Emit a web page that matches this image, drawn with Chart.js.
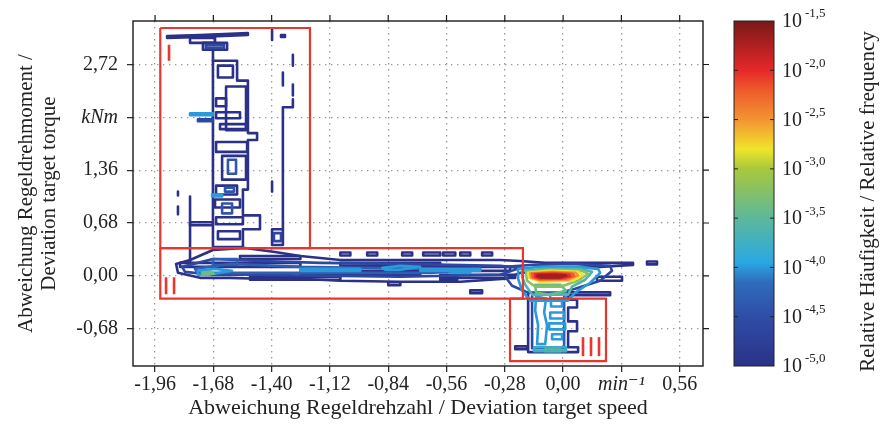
<!DOCTYPE html>
<html>
<head>
<meta charset="utf-8">
<script src="https://cdn.jsdelivr.net/npm/chart.js@4.4.1/dist/chart.umd.min.js"></script>
<style>
  html, body { margin: 0; padding: 0; background: #fff; }
</style>
</head>
<body>
<canvas id="chart" width="881" height="432"></canvas>
<script>
// --- axes ---
const xTicks = [-1.96, -1.68, -1.40, -1.12, -0.84, -0.56, -0.28, 0.00, 0.28, 0.56];
const yTicks = [-0.68, 0.00, 0.68, 1.36, 2.04, 2.72];
const xUnitAt = 0.28;   // 'min⁻¹' replaces this label
const yUnitAt = 2.04;   // 'kNm' replaces this label
const xLimits = [-2.066, 0.672];
const yLimits = [-1.161, 3.28];

// --- colour scale: log10 of relative frequency ---
const levelTicks = [-5.0, -4.5, -4.0, -3.5, -3.0, -2.5, -2.0, -1.5];
const jetStops = [
  [-5.0, '#2b3188'], [-4.5, '#2f4da6'], [-4.15, '#2f6cbc'], [-3.95, '#2aa8e4'],
  [-3.5, '#5cb89a'], [-3.0, '#a8c83c'], [-2.8, '#f0e42a'], [-2.5, '#f39432'],
  [-2.2, '#ee5a2a'], [-2.0, '#e6282a'], [-1.5, '#7a1818']
];

// --- marked regions (x1, y1, x2, y2) ---
const regionBoxes = [
  [-1.935, 3.19, -1.216, 0.357],
  [-1.935, 0.357, -0.193, -0.293],
  [-0.255, -0.293, 0.206, -1.097]
];
const regionMarks = [
  { n: 1, x: -1.893, y: 2.871 },
  { n: 2, x: -1.888, y: -0.128 },
  { n: 3, x: 0.134, y: -0.912 }
];

// --- region I: high torque deviation ---
const regionIShapes = [
  { lvl: -5.0, pts: [[-1.902,3.087],[-1.744,3.100],[-1.514,3.126],[-1.514,3.100],[-1.744,3.074],[-1.902,3.062]] },
  { lvl: -5.0, pts: [[-1.682,2.768],[-1.566,2.768],[-1.566,2.513],[-1.514,2.513],[-1.514,1.837],[-1.470,1.837],[-1.470,1.748],[-1.514,1.748],[-1.514,1.110],[-1.538,1.110],[-1.538,0.778],[-1.456,0.778],[-1.456,0.600],[-1.538,0.600],[-1.538,0.370],[-1.682,0.370]] }
];
const regionIBoxes = [
  { lvl: -5.0, r: [-1.792,3.062,-1.672,2.998] },
  { lvl: -5.0, r: [-1.730,2.998,-1.614,2.909] },
  { lvl: -4.6, r: [-1.716,2.973,-1.629,2.934] },
  { lvl: -5.0, r: [-1.658,2.705,-1.586,2.552] },
  { lvl: -5.0, r: [-1.619,2.437,-1.523,1.875] },
  { lvl: -5.0, r: [-1.667,2.284,-1.619,2.182] },
  { lvl: -5.0, r: [-1.667,2.105,-1.552,2.029] },
  { lvl: -5.0, r: [-1.648,1.952,-1.523,1.888] },
  { lvl: -5.0, r: [-1.667,1.722,-1.518,1.595] },
  { lvl: -5.0, r: [-1.638,1.544,-1.523,1.238] },
  { lvl: -5.0, r: [-1.667,1.161,-1.566,1.046] },
  { lvl: -5.0, r: [-1.672,0.982,-1.552,0.880] },
  { lvl: -5.0, r: [-1.667,0.753,-1.538,0.663] },
  { lvl: -5.0, r: [-1.658,0.574,-1.552,0.472] },
  { lvl: -4.4, r: [-1.610,1.493,-1.571,1.314] },
  { lvl: -4.4, r: [-1.624,1.135,-1.581,1.084] },
  { lvl: -4.4, r: [-1.638,0.931,-1.590,0.804] },
  { lvl: -4.0, r: [-1.792,2.092,-1.682,2.067] },
  { lvl: -4.6, r: [-1.754,2.016,-1.682,1.990] },
  { lvl: -4.0, r: [-1.686,1.046,-1.638,1.021] },
  { lvl: -5.0, r: [-1.792,0.689,-1.682,0.651] },
  { lvl: -5.0, r: [-1.398,0.600,-1.346,0.396] },
  { lvl: -4.6, r: [-1.389,0.549,-1.355,0.447] },
  { lvl: -5.0, r: [-1.355,3.100,-1.336,3.074] }
];
const regionILines = [
  { lvl: -5.0, pts: [[-1.682,2.909],[-1.682,2.768]] },
  { lvl: -5.0, pts: [[-1.346,0.600],[-1.346,2.169],[-1.298,2.169],[-1.298,2.271]] },
  { lvl: -5.0, pts: [[-1.298,2.845],[-1.298,2.705]] },
  { lvl: -5.0, pts: [[-1.298,2.462],[-1.298,2.322]] },
  { lvl: -5.0, pts: [[-1.346,2.615],[-1.346,2.450]] },
  { lvl: -5.0, pts: [[-1.398,3.164],[-1.398,3.036]] },
  { lvl: -5.0, pts: [[-1.398,1.212],[-1.398,1.084]] },
  { lvl: -5.0, pts: [[-1.792,1.021],[-1.792,0.166]] },
  { lvl: -5.0, pts: [[-1.850,1.084],[-1.850,1.033]] },
  { lvl: -5.0, pts: [[-1.850,0.893],[-1.850,0.791]] }
];

// --- region II: speed deviation band ---
const regionIIShapes = [
  { lvl: -5.0, pts: [[-1.859,0.153],[-1.792,0.204],[-1.682,0.332],[-1.528,0.357],[-1.384,0.306],[-1.262,0.255],[-1.070,0.204],[-0.782,0.204],[-0.494,0.204],[-0.302,0.204],[-0.206,0.191],[-0.086,0.166],[0.130,0.166],[0.336,0.166],[0.336,0.140],[0.178,0.115],[-0.014,0.089],[-0.206,0.038],[-0.278,-0.038],[-0.494,-0.077],[-0.782,-0.077],[-1.070,-0.064],[-1.262,-0.038],[-1.456,-0.038],[-1.600,-0.026],[-1.744,-0.026],[-1.850,0.038]] },
  { lvl: -4.6, pts: [[-1.830,0.115],[-1.682,0.217],[-1.456,0.191],[-1.166,0.166],[-0.782,0.153],[-0.302,0.128],[-0.206,0.102],[-0.302,0.013],[-0.782,-0.013],[-1.166,0],[-1.456,0.013],[-1.682,0.013],[-1.816,0.051]] },
  { lvl: -4.3, pts: [[-1.768,0.089],[-1.600,0.153],[-1.262,0.115],[-0.974,0.102],[-0.638,0.089],[-0.398,0.077],[-0.638,0.038],[-0.974,0.038],[-1.262,0.038],[-1.600,0.038],[-1.754,0.038]] },
  { lvl: -4.0, pts: [[-1.754,0.064],[-1.672,0.089],[-1.590,0.064],[-1.672,0.026],[-1.754,0.013]] },
  { lvl: -3.4, pts: [[-1.735,0.038],[-1.696,0.051],[-1.677,0.026],[-1.725,0.013]] },
  { lvl: -4.0, pts: [[-0.869,0.102],[-0.782,0.128],[-0.686,0.115],[-0.782,0.077],[-0.854,0.077]] }
];
const regionIIBoxes = [
  { lvl: -4.0, r: [-0.542,0.064,-0.446,0.038] },
  { lvl: -4.0, r: [-1.262,0.089,-0.974,0.064] },
  { lvl: -4.0, r: [-0.686,0.089,-0.398,0.064] },
  { lvl: -4.3, r: [-1.682,0.217,-1.566,0.140] },
  { lvl: -5.0, r: [-1.552,0.255,-1.262,0.217] },
  { lvl: -5.0, r: [-1.840,0.166,-1.262,0.115] },
  { lvl: -5.0, r: [-1.262,0.064,-0.686,0.013] },
  { lvl: -5.0, r: [-0.686,0.115,-0.254,0.064] },
  { lvl: -5.0, r: [-1.504,-0.013,-1.070,-0.051] },
  { lvl: -5.0, r: [-1.070,0.166,-0.590,0.128] },
  { lvl: -5.0, r: [-0.590,0.013,-0.230,-0.026] },
  { lvl: -5.0, r: [-1.070,0.300,-1.022,0.262] },
  { lvl: -5.0, r: [-0.941,0.300,-0.893,0.262] },
  { lvl: -5.0, r: [-0.773,0.300,-0.725,0.262] },
  { lvl: -5.0, r: [-0.672,0.300,-0.590,0.262] },
  { lvl: -5.0, r: [-0.576,0.300,-0.518,0.262] },
  { lvl: -5.0, r: [-0.494,0.300,-0.446,0.262] },
  { lvl: -5.0, r: [-0.389,0.300,-0.341,0.262] },
  { lvl: -5.0, r: [-0.840,-0.083,-0.782,-0.121] },
  { lvl: -5.0, r: [-0.590,-0.019,-0.509,-0.057] },
  { lvl: -5.0, r: [-0.446,-0.185,-0.389,-0.223] },
  { lvl: -5.0, r: [0.019,-0.211,0.226,-0.249] },
  { lvl: -5.0, r: [0.403,0.185,0.451,0.147] },
  { lvl: -5.0, r: [0.163,-0.013,0.283,-0.064] }
];

// --- operating peak near zero deviation ---
const peakShapes = [
  { lvl: -4.6, pts: [[-0.278,0.115],[-0.158,0.140],[0.034,0.153],[0.226,0.128],[0.235,0.064],[0.178,-0.064],[0.058,-0.166],[-0.014,-0.217],[-0.168,-0.217],[-0.245,-0.128],[-0.278,-0.013]] },
  { lvl: -4.0, pts: [[-0.216,0.089],[-0.110,0.115],[0.058,0.115],[0.168,0.089],[0.178,0.038],[0.130,-0.089],[0.058,-0.217],[0.024,-0.319],[-0.158,-0.319],[-0.197,-0.191],[-0.216,-0.038]] },
  { lvl: -3.6, pts: [[-0.197,0.064],[-0.086,0.089],[0.082,0.089],[0.139,0.051],[0.106,-0.051],[0.043,-0.140],[0.024,-0.242],[-0.149,-0.242],[-0.182,-0.115],[-0.197,-0.013]] },
  { lvl: -3.4, pts: [[-0.134,-0.115],[-0.014,-0.115],[0.014,-0.191],[-0.062,-0.242],[-0.130,-0.217]] },
  { lvl: -3.2, pts: [[-0.178,0.051],[-0.062,0.077],[0.091,0.064],[0.120,0.026],[0.072,-0.064],[-0.014,-0.140],[-0.134,-0.140],[-0.173,-0.064]] },
  { lvl: -2.8, pts: [[-0.168,0.038],[-0.062,0.064],[0.072,0.051],[0.096,0.013],[0.043,-0.064],[-0.110,-0.077],[-0.163,-0.026]] },
  { lvl: -2.5, pts: [[-0.158,0.032],[-0.053,0.051],[0.058,0.038],[0.072,0.006],[0.024,-0.051],[-0.110,-0.057],[-0.154,-0.026]] },
  { lvl: -2.2, pts: [[-0.149,0.026],[-0.048,0.038],[0.043,0.026],[0.053,0],[0.010,-0.038],[-0.110,-0.045],[-0.144,-0.019]] },
  { lvl: -2.0, pts: [[-0.134,0.019],[-0.038,0.026],[0.029,0.013],[0.034,-0.006],[-0.014,-0.032],[-0.110,-0.032],[-0.134,-0.013]] },
  { lvl: -1.7, pts: [[-0.120,0.009],[-0.034,0.013],[0.014,0.003],[-0.014,-0.020],[-0.110,-0.020],[-0.125,-0.006]] }
];

// --- region III: negative torque below the peak ---
const regionIIIShapes = [
  { lvl: -4.0, pts: [[-0.130,-0.268],[-0.082,-0.293],[-0.091,-0.472],[-0.077,-0.638],[-0.086,-0.880],[-0.125,-0.880],[-0.120,-0.638],[-0.134,-0.447]] }
];
const regionIIIBoxes = [
  { lvl: -5.0, r: [-0.230,-0.906,-0.173,-0.944] },
  { lvl: -4.0, r: [-0.062,-0.230,0.014,-0.293] },
  { lvl: -4.0, r: [-0.058,-0.319,-0.005,-0.396] },
  { lvl: -4.0, r: [-0.062,-0.472,0.005,-0.549] },
  { lvl: -4.0, r: [-0.067,-0.612,0.010,-0.689] },
  { lvl: -4.0, r: [-0.053,-0.753,-0.005,-0.817] },
  { lvl: -3.8, r: [-0.139,-0.919,0.014,-0.970] },
  { lvl: -3.6, r: [-0.086,-0.945,-0.014,-0.970] }
];
const regionIIILines = [
  { lvl: -5.0, pts: [[-0.168,-0.217],[-0.168,-0.982],[0.072,-0.982],[0.072,-0.919],[0.024,-0.919],[0.024,-0.714],[0.067,-0.714],[0.067,-0.587],[0.024,-0.587],[0.024,-0.408],[0.067,-0.408],[0.067,-0.306],[0.024,-0.306],[0.024,-0.217]] },
  { lvl: -4.6, pts: [[-0.149,-0.255],[-0.149,-0.931],[0.010,-0.931]] },
  { lvl: -4.3, pts: [[0.005,-0.268],[0.005,-0.893]] }
];

// --- helpers ---
const serif = "'Liberation Serif', 'DejaVu Serif', serif";
const ink = '#222';

function hexRgb(h) {
  const n = parseInt(h.slice(1), 16);
  return [n >> 16, (n >> 8) & 255, n & 255];
}

function levelColor(l) {
  for (let i = 0; i < jetStops.length - 1; i++) {
    const [l0, c0] = jetStops[i];
    const [l1, c1] = jetStops[i + 1];
    if (l <= l1) {
      const t = Math.max(0, (l - l0) / (l1 - l0));
      const a = hexRgb(c0), b = hexRgb(c1);
      return 'rgb(' + a.map((v, k) => Math.round(v + (b[k] - v) * t)).join(',') + ')';
    }
  }
  return jetStops[jetStops.length - 1][1];
}

function rectPts(r) {
  return [[r[0], r[1]], [r[2], r[1]], [r[2], r[3]], [r[0], r[3]]];
}

function fmt(v) {
  return (Math.abs(v) < 1e-9 ? 0 : v).toFixed(2).replace('.', ',');
}

const datasets = [];

function addLine(pts, lvl, closed) {
  const data = pts.map(p => ({ x: p[0], y: p[1] }));
  if (closed) data.push({ x: pts[0][0], y: pts[0][1] });
  const col = levelColor(lvl);
  datasets.push({
    data: data,
    borderColor: col,
    backgroundColor: col,
    borderWidth: 2.6,
    borderJoinStyle: 'round',
    borderCapStyle: 'round',
    pointRadius: 0,
    tension: 0,
    fill: closed && lvl >= -2.0 ? 'shape' : false,
    order: Math.round(-lvl * 10)
  });
}

[regionIShapes, regionIIShapes, peakShapes, regionIIIShapes].forEach(list =>
  list.forEach(s => addLine(s.pts, s.lvl, true)));
[regionIBoxes, regionIIBoxes, regionIIIBoxes].forEach(list =>
  list.forEach(b => addLine(rectPts(b.r), b.lvl, true)));
[regionILines, regionIIILines].forEach(list =>
  list.forEach(s => addLine(s.pts, s.lvl, false)));

regionBoxes.forEach(r => {
  const p = rectPts(r);
  p.push(p[0]);
  datasets.push({
    data: p.map(q => ({ x: q[0], y: q[1] })),
    borderColor: '#e8372c',
    borderWidth: 2.2,
    pointRadius: 0,
    fill: false,
    order: 0
  });
});

// --- frame, top/right ticks, region marks and colour bar ---
const decorations = {
  id: 'decorations',
  afterDatasetsDraw(chart) {
    const { ctx, chartArea: a, scales } = chart;
    ctx.save();

    // red roman numerals as bars
    const markHeights = [16, 17, 19];
    ctx.fillStyle = '#e8372c';
    regionMarks.forEach((m, i) => {
      const cx = scales.x.getPixelForValue(m.x);
      const cy = scales.y.getPixelForValue(m.y);
      const h = markHeights[i];
      for (let k = 0; k < m.n; k++) {
        const bx = cx + (k - (m.n - 1) / 2) * 8;
        ctx.fillRect(bx - 1.3, cy - h / 2, 2.6, h);
      }
    });

    ctx.strokeStyle = '#1a1a1a';
    ctx.lineWidth = 1.4;
    ctx.strokeRect(a.left, a.top, a.right - a.left, a.bottom - a.top);

    ctx.lineWidth = 1.2;
    ctx.beginPath();
    xTicks.forEach(v => {
      const px = scales.x.getPixelForValue(v);
      ctx.moveTo(px, a.top - 6);
      ctx.lineTo(px, a.top);
    });
    yTicks.forEach(v => {
      const py = scales.y.getPixelForValue(v);
      ctx.moveTo(a.right, py);
      ctx.lineTo(a.right + 6, py);
    });
    ctx.stroke();
    ctx.restore();
  },
  afterDraw(chart) {
    const { ctx } = chart;
    const cb = chart.scales.cb;
    const lo = levelTicks[0], hi = levelTicks[levelTicks.length - 1];
    const top = cb.getPixelForValue(hi);
    const bot = cb.getPixelForValue(lo);
    const x0 = cb.left + 31, w = 40;

    ctx.save();
    const g = ctx.createLinearGradient(0, bot, 0, top);
    jetStops.forEach(([l, c]) => g.addColorStop((l - lo) / (hi - lo), c));
    ctx.fillStyle = g;
    ctx.fillRect(x0, top, w, bot - top);
    ctx.strokeStyle = '#222';
    ctx.lineWidth = 1;
    ctx.strokeRect(x0, top, w, bot - top);

    ctx.beginPath();
    levelTicks.forEach(l => {
      const py = cb.getPixelForValue(l);
      if (l === lo || l === hi) return;
      ctx.moveTo(x0, py); ctx.lineTo(x0 + 4, py);
      ctx.moveTo(x0 + w - 4, py); ctx.lineTo(x0 + w, py);
    });
    ctx.stroke();

    ctx.fillStyle = ink;
    ctx.textBaseline = 'middle';
    ctx.textAlign = 'left';
    levelTicks.forEach(l => {
      const py = cb.getPixelForValue(l);
      ctx.font = '20px ' + serif;
      ctx.fillText('10', x0 + w + 8, py + 1);
      const tw = ctx.measureText('10').width;
      ctx.font = '13px ' + serif;
      ctx.fillText(l.toFixed(1).replace('.', ','), x0 + w + 8 + tw + 3, py - 7);
    });

    ctx.translate(868, (top + bot) / 2 + 8);
    ctx.rotate(-Math.PI / 2);
    ctx.textAlign = 'center';
    ctx.font = '21px ' + serif;
    ctx.fillText('Relative Häufigkeit / Relative frequency', 0, 0);
    ctx.restore();
  }
};

Chart.defaults.font.family = serif;
Chart.defaults.color = ink;

new Chart(document.getElementById('chart'), {
  type: 'line',
  data: { datasets: datasets },
  options: {
    responsive: false,
    animation: false,
    events: [],
    layout: { padding: { top: 18, left: 0, right: 0, bottom: 0 } },
    plugins: {
      legend: { display: false },
      tooltip: { enabled: false }
    },
    scales: {
      x: {
        type: 'linear',
        position: 'bottom',
        min: xLimits[0],
        max: xLimits[1],
        afterBuildTicks: s => { s.ticks = xTicks.map(v => ({ value: v })); },
        afterFit: s => { s.height = 66; },
        ticks: {
          autoSkip: false,
          maxRotation: 0,
          padding: 1,
          color: ink,
          font: c => ({
            family: serif, size: 20,
            style: c.tick && Math.abs(c.tick.value - xUnitAt) < 1e-6 ? 'italic' : 'normal'
          }),
          callback: v => Math.abs(v - xUnitAt) < 1e-6 ? 'min⁻¹' : fmt(v)
        },
        grid: { color: '#9a9a9a', lineWidth: 1.3, tickLength: 6, tickColor: '#222', tickWidth: 1.2 },
        border: { display: false, dash: [1.4, 4.6] },
        title: {
          display: true,
          text: 'Abweichung Regeldrehzahl / Deviation target speed',
          color: ink,
          font: { family: serif, size: 22, lineHeight: 1.2 },
          padding: { top: 0, bottom: 11 }
        }
      },
      y: {
        type: 'linear',
        position: 'left',
        min: yLimits[0],
        max: yLimits[1],
        afterBuildTicks: s => { s.ticks = yTicks.map(v => ({ value: v })); },
        afterFit: s => { s.width = 133; },
        ticks: {
          autoSkip: false,
          padding: 9,
          color: ink,
          font: c => ({
            family: serif, size: 20,
            style: c.tick && Math.abs(c.tick.value - yUnitAt) < 1e-6 ? 'italic' : 'normal'
          }),
          callback: v => Math.abs(v - yUnitAt) < 1e-6 ? 'kNm' : fmt(v)
        },
        grid: { color: '#9a9a9a', lineWidth: 1.3, tickLength: 6, tickColor: '#222', tickWidth: 1.2 },
        border: { display: false, dash: [1.4, 4.6] },
        title: {
          display: true,
          text: ['Abweichung Regeldrehmoment /', 'Deviation target torque'],
          color: ink,
          font: { family: serif, size: 21, lineHeight: 1.1 },
          padding: { top: 15, bottom: 0 }
        }
      },
      cb: {
        type: 'linear',
        position: 'right',
        min: levelTicks[0],
        max: levelTicks[levelTicks.length - 1],
        afterFit: s => { s.width = 178; },
        ticks: { display: false },
        grid: { display: false, drawOnChartArea: false, drawTicks: false },
        border: { display: false }
      }
    }
  },
  plugins: [decorations]
});
</script>
</body>
</html>
